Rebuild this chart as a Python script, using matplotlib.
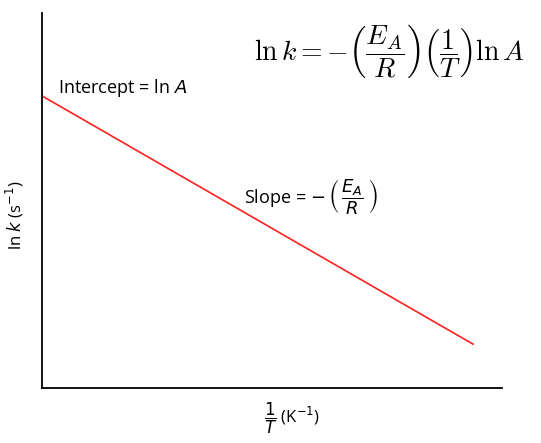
import numpy as np
import matplotlib.pyplot as plt

# line end points, axes run 0..1 in both directions
inv_T = [0.0, 0.937]
ln_k = [0.779, 0.117]

plt.rcParams['font.family'] = ['Open Sans', 'DejaVu Sans']

fig = plt.figure(figsize=(5.41, 4.43), dpi=100)
ax = fig.add_axes([42 / 541, 55 / 443, 460 / 541, 375 / 443])

ax.plot(inv_T, ln_k, color='#ff2020', lw=1.2)
ax.set_xlim(0, 1)
ax.set_ylim(0, 1)
ax.set_xticks([])
ax.set_yticks([])
ax.spines['top'].set_visible(False)
ax.spines['right'].set_visible(False)
for s in ['left', 'bottom']:
    ax.spines[s].set_linewidth(1.3)

ax.text(0.035, 0.8, 'Intercept = ln $A$', fontsize=13,
        transform=ax.transAxes, va='center', math_fontfamily='dejavusans')
ax.text(0.44, 0.51, r'Slope = $-\,\left(\,\dfrac{E_A}{R}\,\right)$', fontsize=13,
        transform=ax.transAxes, va='center', math_fontfamily='dejavusans')
ax.text(1.05, 0.9,
        r'$\ln k = -\left(\dfrac{E_A}{R}\right)\left(\dfrac{1}{T}\right)\ln A$',
        fontsize=20, transform=ax.transAxes, ha='right', va='center',
        math_fontfamily='cm')

ax.set_ylabel('ln $k$ (s$^{-1}$)', fontsize=12,
              math_fontfamily='dejavusans')
ax.yaxis.set_label_coords(-0.035, 0.46)
ax.set_xlabel(r'$\dfrac{1}{T}$ (K$^{-1}$)', fontsize=12,
              math_fontfamily='dejavusans')
ax.xaxis.set_label_coords(0.543, -0.035)

fig.savefig('out.png', dpi=100)
